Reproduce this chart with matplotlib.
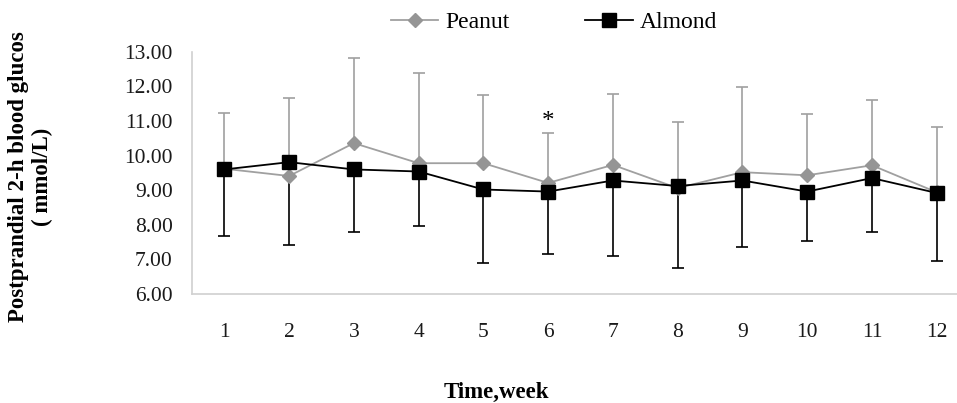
import numpy as np
import matplotlib
matplotlib.use("Agg")
import matplotlib.pyplot as plt

plt.rcParams['font.family'] = ['Liberation Serif', 'DejaVu Serif']

weeks = np.arange(1, 13)
week_labels = [str(w) for w in weeks]

# Peanut group: mean and upper end of error bar
peanut_mean = [9.62, 9.41, 10.36, 9.78, 9.78, 9.21, 9.73, 9.06, 9.52, 9.43, 9.72, 8.94]
peanut_top = [11.24, 11.65, 12.81, 12.38, 11.76, 10.66, 11.77, 10.98, 11.97, 11.19, 11.60, 10.82]

# Almond group: mean and lower end of error bar
almond_mean = [9.60, 9.81, 9.60, 9.54, 9.02, 8.96, 9.28, 9.12, 9.28, 8.96, 9.35, 8.92]
almond_low = [7.69, 7.43, 7.79, 7.96, 6.90, 7.17, 7.11, 6.74, 7.37, 7.53, 7.78, 6.95]

peanut_up = np.array(peanut_top) - np.array(peanut_mean)
almond_dn = np.array(almond_mean) - np.array(almond_low)

fig = plt.figure(figsize=(9.57, 4.03), dpi=100)
ax = fig.add_axes([0.2006, 0.2705, 0.812, 0.601])

gray = '#A0A0A0'

# error bars first (peanut only upward, almond only downward)
eb1 = ax.errorbar(weeks, peanut_mean, yerr=[np.zeros(12), peanut_up], fmt='none',
                  ecolor=gray, elinewidth=1.2, capsize=4.5, capthick=1.2, zorder=2)
eb1[1][0].set_visible(False)
eb2 = ax.errorbar(weeks, almond_mean, yerr=[almond_dn, np.zeros(12)], fmt='none',
                  ecolor='black', elinewidth=1.2, capsize=4.5, capthick=1.2, zorder=2)
eb2[1][1].set_visible(False)

ax.plot(weeks, peanut_mean, color=gray, lw=1.3, marker='D', markersize=7,
        markerfacecolor='#959595', markeredgecolor='#959595', label='Peanut', zorder=3)
ax.plot(weeks, almond_mean, color='black', lw=1.3, marker='s', markersize=10,
        markerfacecolor='black', markeredgecolor='black', label='Almond', zorder=4)

# significance mark
ax.text(6, 10.98, '*', ha='center', va='center', fontsize=18, color='black')

ax.set_xlim(0.5, 12.5)
ax.set_ylim(6, 13)
ax.set_yticks(np.arange(6, 14, 1))
ax.set_yticklabels(['%.2f' % v for v in np.arange(6, 14, 1)])
ax.set_xticks(weeks)
ax.set_xticklabels(week_labels)
ax.tick_params(axis='both', length=0, labelsize=15.5, colors='#1a1a1a')
ax.tick_params(axis='x', pad=21)
ax.tick_params(axis='y', pad=14)

for s in ['top', 'right']:
    ax.spines[s].set_visible(False)
for s in ['left', 'bottom']:
    ax.spines[s].set_color('#D0D0D0')
    ax.spines[s].set_linewidth(1.2)

fig.legend(loc='center', bbox_to_anchor=(0.579, 0.945), ncol=2, frameon=False,
           fontsize=17, handlelength=2.0, columnspacing=3.2, handletextpad=0.3)

fig.text(0.032, 0.561, 'Postprandial 2-h blood glucos\n( mmol/L)', rotation=90,
         ha='center', va='center', multialignment='center', fontsize=16.5,
         fontweight='bold', linespacing=1.2)
fig.text(0.519, 0.025, 'Time,week', ha='center', va='center', fontsize=16.5,
         fontweight='bold')

fig.savefig('out.png', dpi=100)
